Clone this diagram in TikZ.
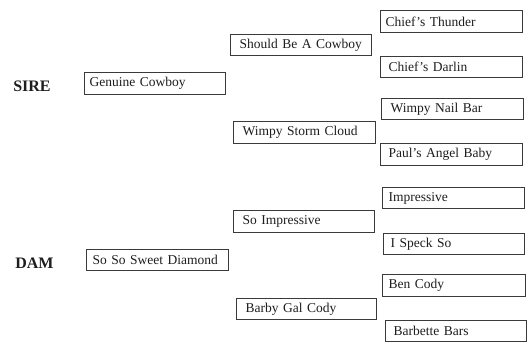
\documentclass[tikz,border=0pt]{standalone}
\usepackage{fontspec}
\setmainfont{Liberation Serif}
\definecolor{edge}{HTML}{3A3A3A}
\definecolor{ink}{HTML}{1E1E1E}
\tikzset{
  pbox/.style={draw=edge, line width=1.3pt, text=ink, anchor=north west, inner ysep=0pt,
    align=left, font=\fontsize{13.5}{15}\selectfont},
  lbl/.style={text=ink, font=\fontsize{16}{18}\selectfont\bfseries}
}
\newcommand\pednode[7]{%
  \pgfmathsetmacro\pw{#4-#2}\pgfmathsetmacro\ph{#5-#3}\pgfmathsetmacro\tw{#4-#2-2*#6}%
  \node[pbox, inner xsep=#6pt, minimum width=\pw pt, minimum height=\ph pt, text width=\tw pt] (#1) at (#2pt,-#3pt) {#7};}
\begin{document}
\begin{tikzpicture}
\useasboundingbox[fill=white] (0,0) rectangle (529pt,-343pt);
\node[lbl] (sire) at (32pt,-86pt) {SIRE};
\node[lbl] (dam) at (34.5pt,-263pt) {DAM};
\pednode{gc}{84}{72}{225}{94}{5}{Genuine Cowboy}
\pednode{ss}{86}{249}{228}{270}{6}{So So Sweet Diamond}
\pednode{sb}{230}{34}{371}{55}{9}{Should Be A Cowboy}
\pednode{ws}{233}{121}{375}{143}{9}{Wimpy Storm Cloud}
\pednode{si}{233}{210}{374}{232}{9}{So Impressive}
\pednode{bg}{236}{298}{376}{319}{9}{Barby Gal Cody}
\pednode{ct}{380}{10}{522}{32}{5}{Chief’s Thunder}
\pednode{cd}{380}{56}{522}{77}{8}{Chief’s Darlin}
\pednode{wn}{381}{98}{523}{119}{9}{Wimpy Nail Bar}
\pednode{pa}{380}{143}{522}{165}{8}{Paul’s Angel Baby}
\pednode{im}{382}{187}{524}{208}{6}{Impressive}
\pednode{is}{383}{233}{524}{254}{7}{I Speck So}
\pednode{bc}{382}{274}{525}{296}{6}{Ben Cody}
\pednode{bb}{385}{320}{526}{341}{8}{Barbette Bars}
\end{tikzpicture}
\end{document}
